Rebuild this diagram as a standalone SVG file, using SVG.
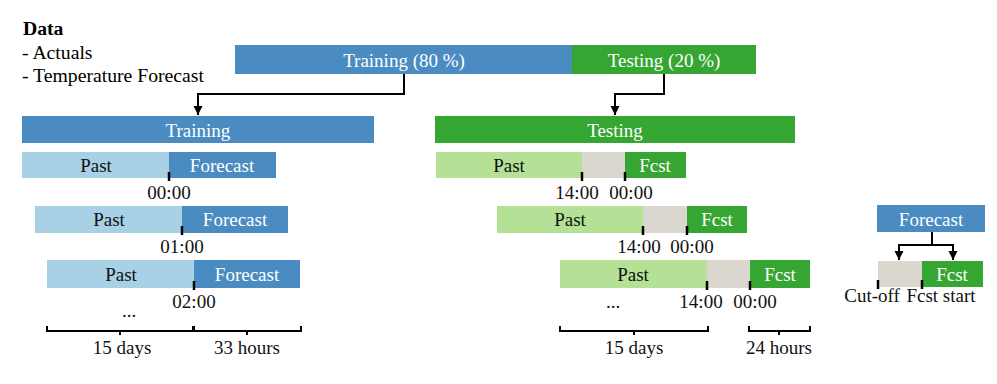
<svg xmlns="http://www.w3.org/2000/svg" width="997" height="384" viewBox="0 0 997 384">
<defs>
<marker id="ah" markerUnits="userSpaceOnUse" markerWidth="10" markerHeight="10" refX="9" refY="5" orient="auto">
<path d="M0,0.5 L9,5 L0,9.5 z" fill="#000"/>
</marker>
<style>
text{font-family:"Liberation Serif","Times New Roman",serif;font-size:19px;}
.lg{font-size:19.7px;}
.c{text-anchor:middle;}
.w{fill:#fff;}
.k{fill:#111;}
.blue{fill:#4A8CC1;}
.lblue{fill:#A9D1E5;}
.green{fill:#36A633;}
.lgreen{fill:#B4E196;}
.gray{fill:#D9D7CE;}
.ln{fill:none;stroke:#000;stroke-width:2;}
.tick{stroke:#000;stroke-width:2.5;}
</style>
</defs>
<rect width="997" height="384" fill="#fff"/>

<g id="data-legend">
<text class="lg" x="23" y="35" style="font-weight:bold">Data</text>
<text class="lg" x="22" y="59">- Actuals</text>
<text class="lg" x="22" y="82">- Temperature Forecast</text>
</g>

<g id="split-training">
<rect class="blue" x="235" y="45" width="337" height="29"/>
<text class="c w" x="404" y="67">Training (80 %)</text>
</g>
<g id="split-testing">
<rect class="green" x="572" y="45" width="184" height="29"/>
<text class="c w" x="664" y="67">Testing (20 %)</text>
</g>

<g id="training-header">
<rect class="blue" x="22" y="116" width="352" height="27"/>
<text class="c w" x="198" y="137">Training</text>
</g>
<g id="testing-header">
<rect class="green" x="435" y="116" width="360" height="27"/>
<text class="c w" x="615" y="137">Testing</text>
</g>

<g id="train-row1">
<rect class="lblue" x="22" y="152" width="147" height="26"/>
<rect class="blue" x="169" y="152" width="107" height="26"/>
<text class="c k" x="96" y="172">Past</text>
<text class="c w" x="222" y="172">Forecast</text>
<line class="tick" x1="169" y1="172" x2="169" y2="181"/>
<text class="c k" x="169" y="199">00:00</text>
</g>
<g id="train-row2">
<rect class="lblue" x="35" y="206" width="147" height="27"/>
<rect class="blue" x="182" y="206" width="106" height="27"/>
<text class="c k" x="109" y="226">Past</text>
<text class="c w" x="235" y="226">Forecast</text>
<line class="tick" x1="182" y1="226" x2="182" y2="235"/>
<text class="c k" x="182" y="253">01:00</text>
</g>
<g id="train-row3">
<rect class="lblue" x="47" y="260" width="147" height="28"/>
<rect class="blue" x="194" y="260" width="106" height="28"/>
<text class="c k" x="121" y="281">Past</text>
<text class="c w" x="247" y="281">Forecast</text>
<line class="tick" x1="194" y1="281" x2="194" y2="290"/>
<text class="c k" x="194" y="308">02:00</text>
<text class="c k" x="129" y="317">...</text>
</g>

<g id="test-row1">
<rect class="lgreen" x="436" y="152" width="146" height="26"/>
<rect class="gray" x="582" y="152" width="43" height="26"/>
<rect class="green" x="625" y="152" width="61" height="26"/>
<text class="c k" x="509" y="172">Past</text>
<text class="c w" x="655" y="172">Fcst</text>
<line class="tick" x1="582" y1="172" x2="582" y2="181"/>
<line class="tick" x1="625" y1="172" x2="625" y2="181"/>
<text class="c k" x="577" y="199">14:00</text>
<text class="c k" x="631" y="199">00:00</text>
</g>
<g id="test-row2">
<rect class="lgreen" x="497" y="206" width="146" height="27"/>
<rect class="gray" x="643" y="206" width="44" height="27"/>
<rect class="green" x="687" y="206" width="60" height="27"/>
<text class="c k" x="570" y="226">Past</text>
<text class="c w" x="717" y="226">Fcst</text>
<line class="tick" x1="643" y1="226" x2="643" y2="235"/>
<line class="tick" x1="687" y1="226" x2="687" y2="235"/>
<text class="c k" x="639" y="253">14:00</text>
<text class="c k" x="692" y="253">00:00</text>
</g>
<g id="test-row3">
<rect class="lgreen" x="560" y="260" width="147" height="28"/>
<rect class="gray" x="707" y="260" width="43" height="28"/>
<rect class="green" x="750" y="260" width="60" height="28"/>
<text class="c k" x="633" y="281">Past</text>
<text class="c w" x="780" y="281">Fcst</text>
<line class="tick" x1="707" y1="281" x2="707" y2="290"/>
<line class="tick" x1="750" y1="281" x2="750" y2="290"/>
<text class="c k" x="701" y="308">14:00</text>
<text class="c k" x="755" y="308">00:00</text>
<text class="c k" x="613" y="308">...</text>
</g>

<g id="forecast-box">
<rect class="blue" x="877" y="205" width="108" height="27"/>
<text class="c w" x="931" y="226">Forecast</text>
</g>
<g id="forecast-bar">
<rect class="gray" x="878" y="261" width="44" height="26"/>
<rect class="green" x="922" y="261" width="61" height="26"/>
<text class="c w" x="952" y="281">Fcst</text>
<line class="tick" x1="878" y1="280" x2="878" y2="289"/>
<line class="tick" x1="922" y1="280" x2="922" y2="289"/>
<text class="c k" x="872" y="302">Cut-off</text>
<text class="c k" x="941" y="302">Fcst start</text>
</g>

<g id="braces">
<path class="ln" d="M47,326 V331 H193 V326 M120,331 V335"/>
<path class="ln" d="M194,326 V331 H301 V326 M247,331 V335"/>
<text class="c k" x="122" y="354">15 days</text>
<text class="c k" x="247" y="354">33 hours</text>
<path class="ln" d="M560,326 V331 H708 V326 M634,331 V335"/>
<path class="ln" d="M749,326 V331 H810 V326 M779,331 V335"/>
<text class="c k" x="634" y="354">15 days</text>
<text class="c k" x="779" y="354">24 hours</text>
</g>

<g id="connectors">
<path class="ln" d="M404,74 V94 H198 V115" marker-end="url(#ah)"/>
<path class="ln" d="M664,74 V94 H615 V115" marker-end="url(#ah)"/>
<path class="ln" d="M932,232 V245"/>
<path class="ln" d="M899,245 H953"/>
<path class="ln" d="M899,244 V260" marker-end="url(#ah)"/>
<path class="ln" d="M953,244 V260" marker-end="url(#ah)"/>
</g>
</svg>
